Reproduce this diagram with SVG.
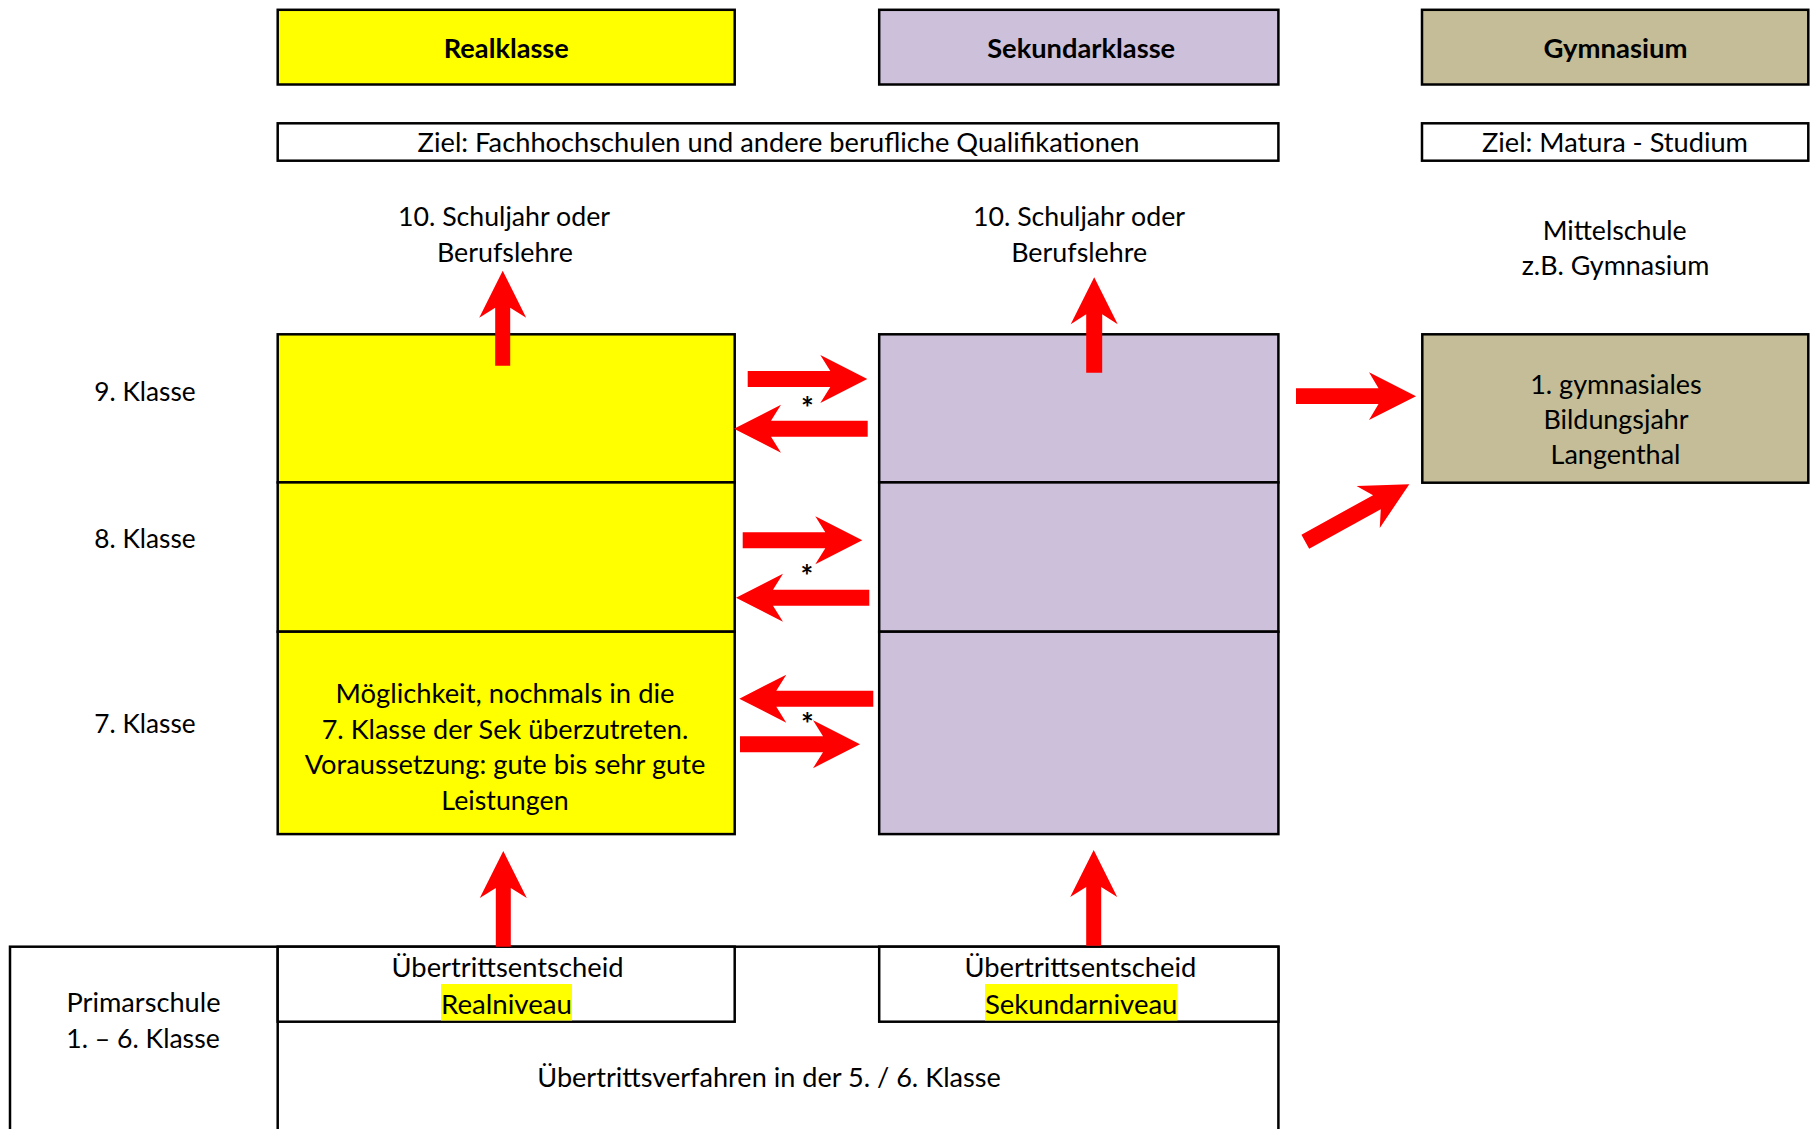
<svg xmlns="http://www.w3.org/2000/svg" width="1814" height="1129" viewBox="0 0 1814 1129">
<style>
.bx{stroke:#000;stroke-width:2.5}
.y{fill:#FFFF00}.p{fill:#CCC0DA}.g{fill:#C4BD97}.w{fill:#FFFFFF}
.ln{stroke:#000;stroke-width:2.5;fill:none}
text{font-family:Lato,"Open Sans","Liberation Sans",sans-serif;font-size:26.5px;fill:#000;text-anchor:middle}
.b{font-weight:bold}
.ast{font-size:30px;font-weight:bold}
.arr{fill:#FF0000}
.hl{fill:#FFFF00}
</style>
<rect width="1814" height="1129" fill="#FFFFFF"/>

<g id="header-realklasse">
<rect class="bx y" x="277.7" y="9.8" width="457" height="74.7"/>
<text class="b" x="506.3" y="57.5" textLength="125" lengthAdjust="spacingAndGlyphs">Realklasse</text>
</g>
<g id="header-sekundarklasse">
<rect class="bx p" x="879.2" y="9.8" width="399.2" height="74.7"/>
<text class="b" x="1081.2" y="57.5" textLength="188" lengthAdjust="spacingAndGlyphs">Sekundarklasse</text>
</g>
<g id="header-gymnasium">
<rect class="bx g" x="1422" y="9.8" width="386.3" height="74.7"/>
<text class="b" x="1615.6" y="57.5" textLength="144" lengthAdjust="spacingAndGlyphs">Gymnasium</text>
</g>

<g id="ziel-beruf">
<rect class="bx w" x="277.7" y="123.3" width="1000.7" height="37.4"/>
<text x="778.6" y="152" textLength="722" lengthAdjust="spacingAndGlyphs">Ziel: Fachhochschulen und andere berufliche Qualifikationen</text>
</g>
<g id="ziel-matura">
<rect class="bx w" x="1422" y="123.3" width="386.3" height="37.4"/>
<text x="1615" y="152" textLength="266" lengthAdjust="spacingAndGlyphs">Ziel: Matura - Studium</text>
</g>

<g id="label-real-10">
<text x="504" y="226" textLength="212" lengthAdjust="spacingAndGlyphs">10. Schuljahr oder</text>
<text x="504.9" y="262" textLength="136" lengthAdjust="spacingAndGlyphs">Berufslehre</text>
</g>
<g id="label-sek-10">
<text x="1079" y="226" textLength="212" lengthAdjust="spacingAndGlyphs">10. Schuljahr oder</text>
<text x="1079.2" y="262" textLength="136" lengthAdjust="spacingAndGlyphs">Berufslehre</text>
</g>
<g id="label-mittelschule">
<text x="1614.7" y="239.5" textLength="144" lengthAdjust="spacingAndGlyphs">Mittelschule</text>
<text x="1615.5" y="275" textLength="187.6" lengthAdjust="spacingAndGlyphs">z.B. Gymnasium</text>
</g>

<g id="row-labels">
<text x="145" y="401" textLength="101.3" lengthAdjust="spacingAndGlyphs">9. Klasse</text>
<text x="145" y="548.3" textLength="101.3" lengthAdjust="spacingAndGlyphs">8. Klasse</text>
<text x="145" y="732.7" textLength="101.3" lengthAdjust="spacingAndGlyphs">7. Klasse</text>
</g>

<g id="real-9"><rect class="bx y" x="277.7" y="334.3" width="457" height="148.1"/></g>
<g id="real-8"><rect class="bx y" x="277.7" y="482.4" width="457" height="149.3"/></g>
<g id="real-7">
<rect class="bx y" x="277.7" y="631.7" width="457" height="202.4"/>
<text x="505" y="703" textLength="339" lengthAdjust="spacingAndGlyphs">Möglichkeit, nochmals in die</text>
<text x="505" y="738.5" textLength="366.7" lengthAdjust="spacingAndGlyphs">7. Klasse der Sek überzutreten.</text>
<text x="505" y="773.5" textLength="400.7" lengthAdjust="spacingAndGlyphs">Voraussetzung: gute bis sehr gute</text>
<text x="505" y="809.5" textLength="127.3" lengthAdjust="spacingAndGlyphs">Leistungen</text>
</g>

<g id="sek-9"><rect class="bx p" x="879.2" y="334.3" width="399.2" height="148.1"/></g>
<g id="sek-8"><rect class="bx p" x="879.2" y="482.4" width="399.2" height="149.3"/></g>
<g id="sek-7"><rect class="bx p" x="879.2" y="631.7" width="399.2" height="202.4"/></g>

<g id="gym-1">
<rect class="bx g" x="1422.3" y="334.3" width="386" height="148.4"/>
<text x="1616" y="394" textLength="171.7" lengthAdjust="spacingAndGlyphs">1. gymnasiales</text>
<text x="1616" y="429.3" textLength="145" lengthAdjust="spacingAndGlyphs">Bildungsjahr</text>
<text x="1615.5" y="464" textLength="130" lengthAdjust="spacingAndGlyphs">Langenthal</text>
</g>

<g id="primarschule">
<rect class="bx w" x="10" y="946.7" width="1268.4" height="200"/>
<line class="ln" x1="277.7" y1="946.7" x2="277.7" y2="1140"/>
<text x="143.5" y="1011.7" textLength="154" lengthAdjust="spacingAndGlyphs">Primarschule</text>
<text x="143" y="1048" textLength="153.4" lengthAdjust="spacingAndGlyphs">1. – 6. Klasse</text>
<text x="769" y="1086.7" textLength="463.5" lengthAdjust="spacingAndGlyphs">Übertrittsverfahren in der 5. / 6. Klasse</text>
</g>
<g id="entscheid-real">
<rect class="bx w" x="277.7" y="946.7" width="457" height="75"/>
<rect class="hl" x="441" y="984" width="131" height="36.5"/>
<text x="507.5" y="977.2" textLength="232" lengthAdjust="spacingAndGlyphs">Übertrittsentscheid</text>
<text x="506.5" y="1014" textLength="131" lengthAdjust="spacingAndGlyphs">Realniveau</text>
</g>
<g id="entscheid-sek">
<rect class="bx w" x="879.2" y="946.7" width="399.2" height="75"/>
<rect class="hl" x="985" y="984" width="192.5" height="36.5"/>
<text x="1080.4" y="977.2" textLength="232" lengthAdjust="spacingAndGlyphs">Übertrittsentscheid</text>
<text x="1081.2" y="1014" textLength="192.5" lengthAdjust="spacingAndGlyphs">Sekundarniveau</text>
</g>

<g id="connectors">
<path class="arr" d="M495.2,365.7 V307.7 L479.2,317.7 L502.7,270.7 L526.2,317.7 L510.2,307.7 V365.7 Z"/>
<path class="arr" d="M1086.2,372.7 V314.3 L1070.7,324.3 L1094.2,277.3 L1117.7,324.3 L1102.2,314.3 V372.7 Z"/>
<path class="arr" d="M495.8,946.7 V888 L479.8,898 L503.3,851 L526.8,898 L510.8,888 V946.7 Z"/>
<path class="arr" d="M1086.2,945.7 V887 L1070.2,897 L1093.7,850 L1117.2,897 L1101.2,887 V945.7 Z"/>
<path class="arr" d="M747.7,371 H830.3 L820.3,355 L867.3,379 L820.3,403 L830.3,387 H747.7 Z"/>
<path class="arr" d="M867.7,420.7 H771 L781,404.7 L734,428.7 L781,452.7 L771,436.7 H867.7 Z"/>
<path class="arr" d="M742.7,532.3 H825.3 L815.3,516.3 L862.3,540.3 L815.3,564.3 L825.3,548.3 H742.7 Z"/>
<path class="arr" d="M869.3,589.8 H773 L783,573.8 L736,597.8 L783,621.8 L773,605.8 H869.3 Z"/>
<path class="arr" d="M873.3,690.7 H776.3 L786.3,674.7 L739.3,698.7 L786.3,722.7 L776.3,706.7 H873.3 Z"/>
<path class="arr" d="M740,736.2 H823 L813,720.2 L860,744.2 L813,768.2 L823,752.2 H740 Z"/>
<path class="arr" d="M1296,388.3 H1378.5 L1369,372.3 L1416,396.2 L1369,420 L1378.5,404 H1296 Z"/>
<path class="arr" transform="translate(1305.3,541.7) rotate(-28.9)" d="M0,-8 H81.8 L71.8,-24 L118.8,0 L71.8,24 L81.8,8 H0 Z"/>
<text class="ast" x="807.3" y="419">*</text>
<text class="ast" x="807" y="586.7">*</text>
<text class="ast" x="807.3" y="734.7">*</text>
</g>
</svg>
